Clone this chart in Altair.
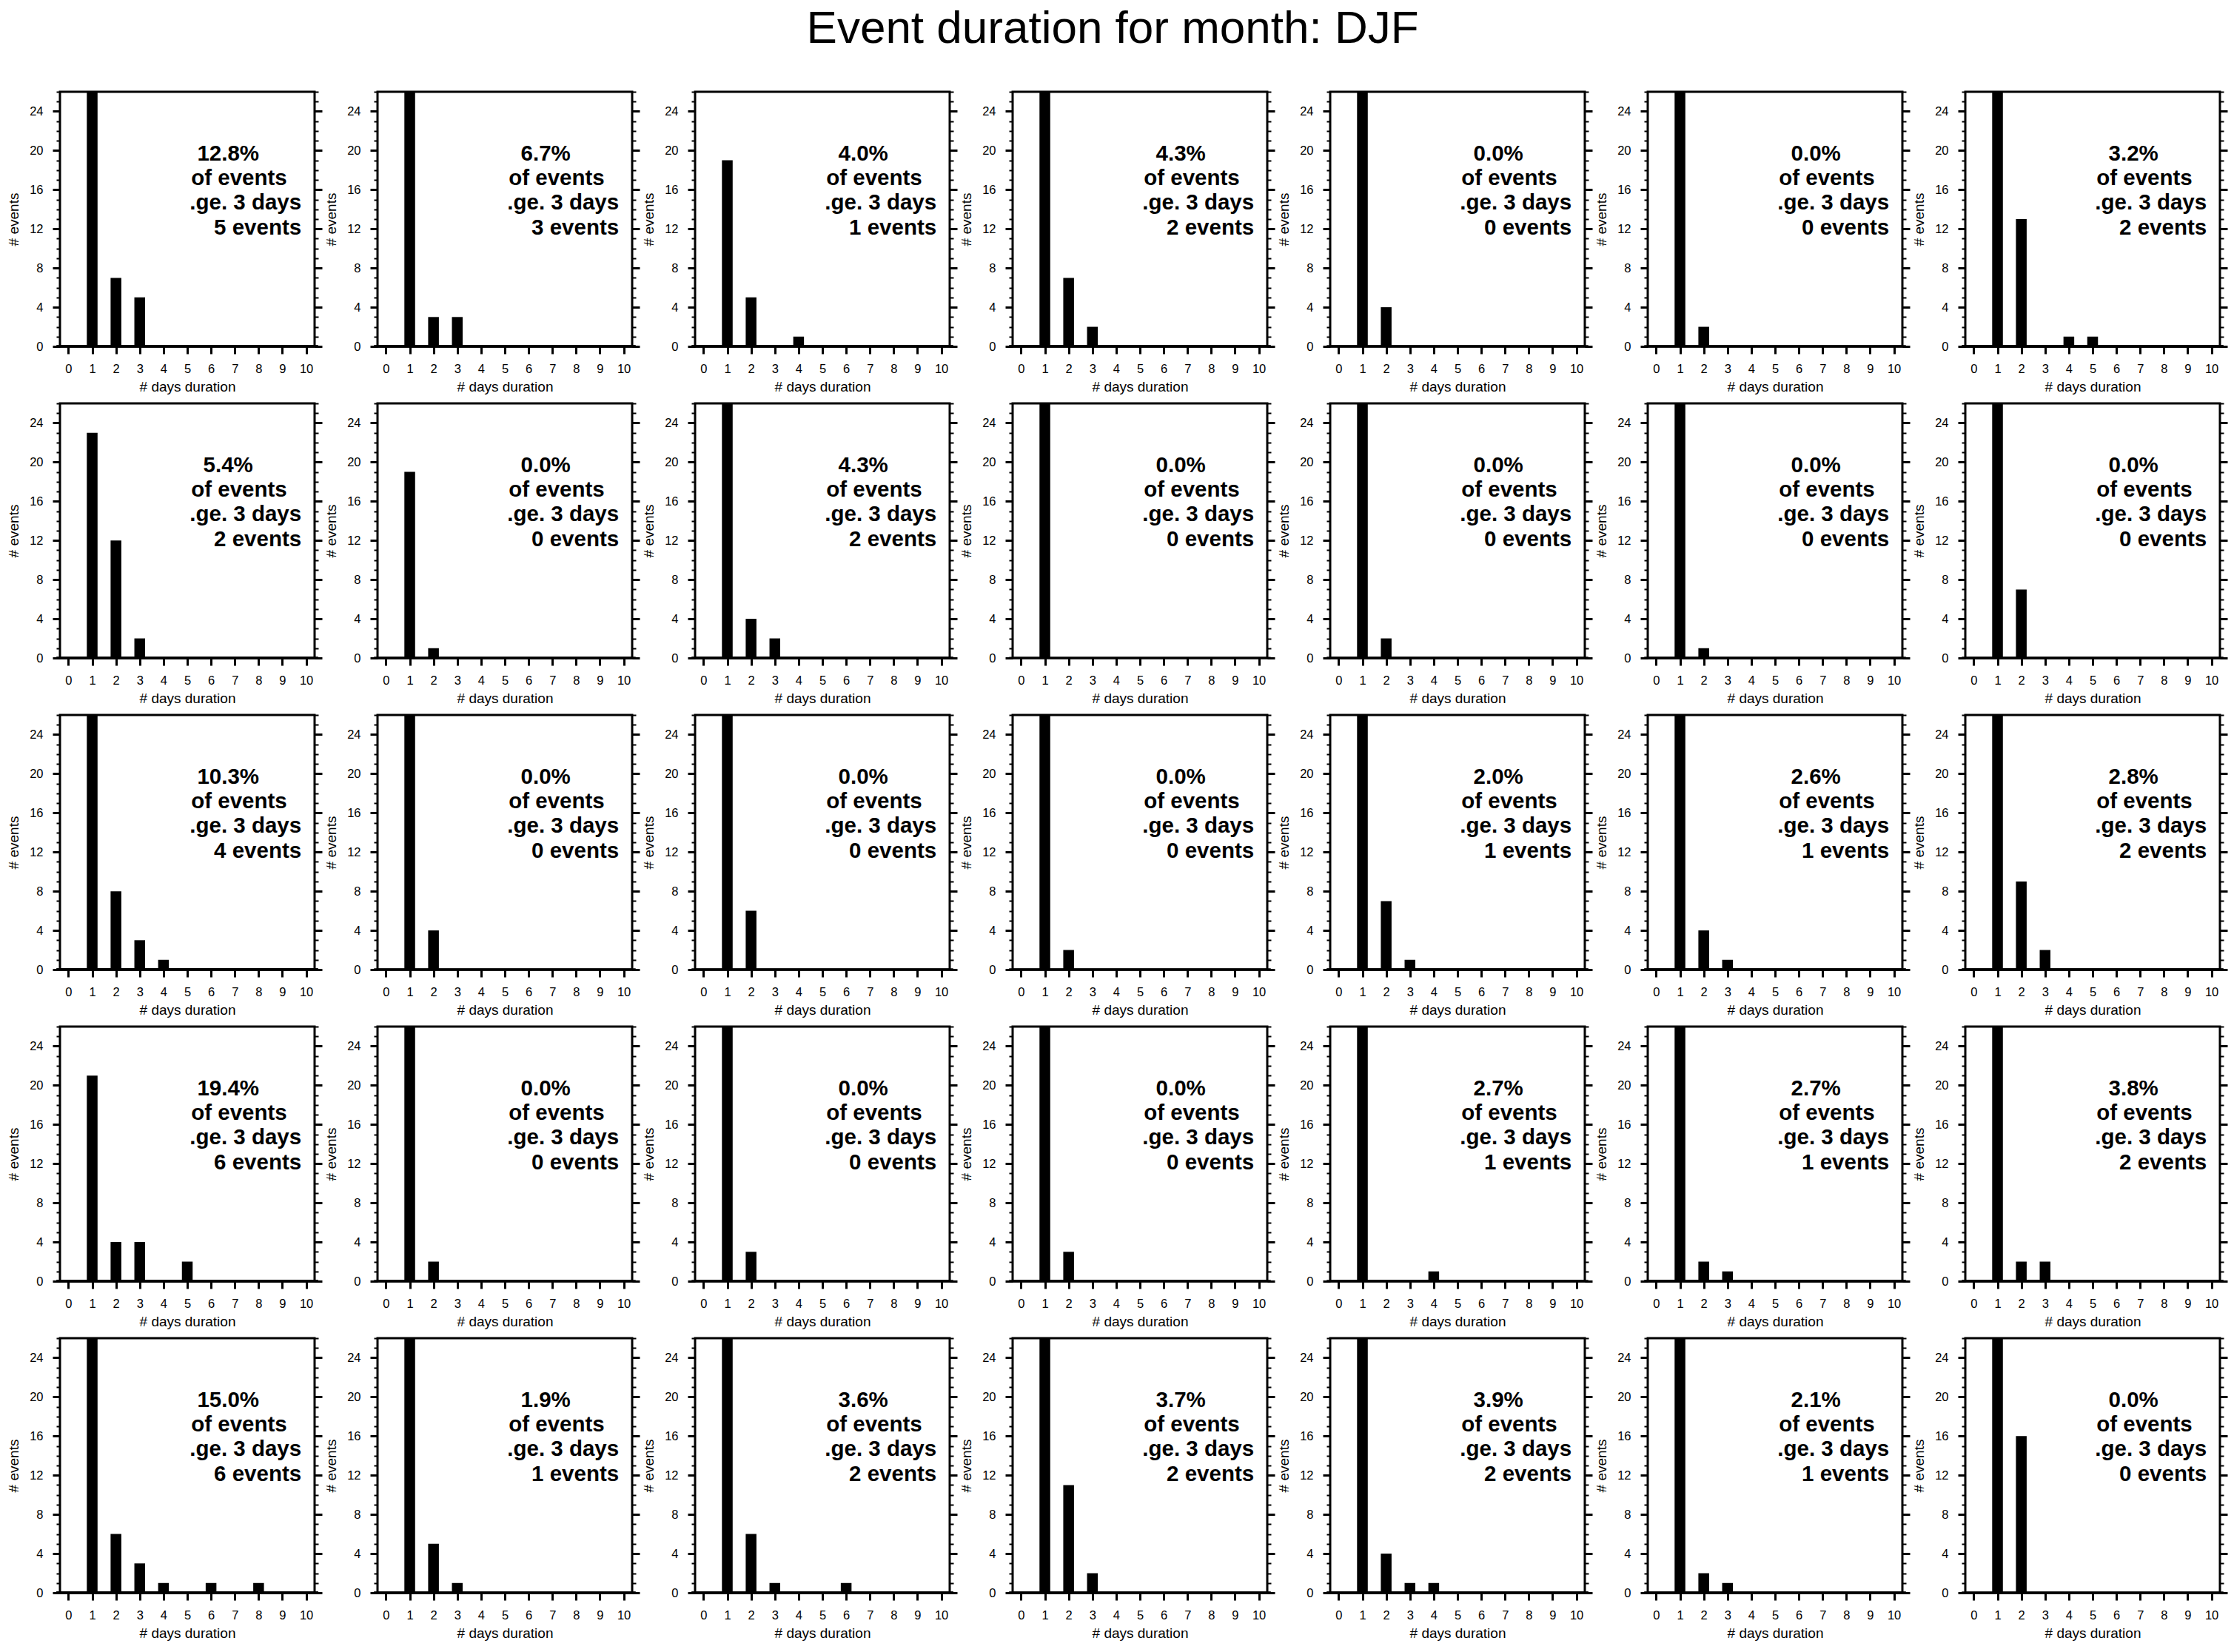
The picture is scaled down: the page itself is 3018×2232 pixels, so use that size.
import altair as alt
import pandas as pd

# ---- data ----
DAYS = [
    [1, 2, 3], [1, 2, 3], [1, 2, 4], [1, 2, 3], [1, 2], [1, 2], [1, 2, 4, 5],
    [1, 2, 3], [1, 2], [1, 2, 3], [1], [1, 2], [1, 2], [1, 2],
    [1, 2, 3, 4], [1, 2], [1, 2], [1, 2], [1, 2, 3], [1, 2, 3], [1, 2, 3],
    [1, 2, 3, 5], [1, 2], [1, 2], [1, 2], [1, 4], [1, 2, 3], [1, 2, 3],
    [1, 2, 3, 4, 6, 8], [1, 2, 3], [1, 2, 3, 6], [1, 2, 3], [1, 2, 3, 4], [1, 2, 3], [1, 2],
]
COUNTS = [
    [27, 7, 5], [39, 3, 3], [19, 5, 1], [38, 7, 2], [35, 4], [35, 2], [47, 13, 1, 1],
    [23, 12, 2], [19, 1], [41, 4, 2], [35], [35, 2], [35, 1], [35, 7],
    [27, 8, 3, 1], [35, 4], [35, 6], [35, 2], [42, 7, 1], [33, 4, 1], [60, 9, 2],
    [21, 4, 4, 2], [35, 2], [35, 3], [35, 3], [36, 1], [34, 2, 1], [49, 2, 2],
    [28, 6, 3, 1, 1, 1], [47, 5, 1], [48, 6, 1, 1], [41, 11, 2], [45, 4, 1, 1], [45, 2, 1], [35, 16],
]
PCT = [
    "12.8%", "6.7%", "4.0%", "4.3%", "0.0%", "0.0%", "3.2%",
    "5.4%", "0.0%", "4.3%", "0.0%", "0.0%", "0.0%", "0.0%",
    "10.3%", "0.0%", "0.0%", "0.0%", "2.0%", "2.6%", "2.8%",
    "19.4%", "0.0%", "0.0%", "0.0%", "2.7%", "2.7%", "3.8%",
    "15.0%", "1.9%", "3.6%", "3.7%", "3.9%", "2.1%", "0.0%",
]
NEVENTS = [
    5, 3, 1, 2, 0, 0, 2,
    2, 0, 2, 0, 0, 0, 0,
    4, 0, 0, 0, 1, 1, 2,
    6, 0, 0, 0, 1, 1, 2,
    6, 1, 2, 2, 2, 1, 0,
]
X_TICKS = list(range(0, 11))
Y_TICKS = list(range(0, 27))

TITLE = "Event duration for month: DJF"
X_TITLE = "# days duration"
Y_TITLE = "# events"

# ---- layout / style constants ----
W, H = 344, 344
XDOM = [-0.2, 10.2]
YDOM = [0, 26]
FONT = "Liberation Sans"
# annotation anchors (data units)
CX = [6.72, 7.18]
CY = [19.0, 16.47]
RX = 9.8
RY = [13.95, 11.43]

xscale = alt.Scale(domain=XDOM, nice=False, zero=False)
yscale = alt.Scale(domain=YDOM, nice=False, zero=False)

major = "datum.value % 4 === 0"
tick_size = {"condition": {"test": major, "value": 10}, "value": 5}
tick_width = {"condition": {"test": major, "value": 3}, "value": 2}

xaxis = alt.Axis(
    values=X_TICKS, format="d", title=X_TITLE, domain=False,
    tickSize=10, tickWidth=3, tickColor="black",
    labelFont=FONT, labelFontSize=16.5, labelColor="black", labelPadding=12,
    labelOverlap=False, labelFlush=False, tickCount=11,
    titleFont=FONT, titleFontSize=19, titleFontWeight="normal", titleColor="black",
    titlePadding=7, grid=False,
)
yaxis_left = alt.Axis(
    orient="left", values=Y_TICKS, title=Y_TITLE, domain=False,
    labelExpr="datum.value % 4 === 0 ? datum.label : ''",
    tickSize=tick_size, tickWidth=tick_width, tickColor="black",
    labelFont=FONT, labelFontSize=16.5, labelColor="black", labelPadding=13,
    labelOverlap=False, labelFlush=False,
    titleFont=FONT, titleFontSize=19, titleFontWeight="normal", titleColor="black",
    titlePadding=11, grid=False,
)
yaxis_right = alt.Axis(
    orient="right", values=Y_TICKS, title="", domain=False, labels=False,
    tickSize=tick_size, tickWidth=tick_width, tickColor="black", grid=False,
)


def panel(i):
    df = pd.DataFrame({"days": DAYS[i], "count": COUNTS[i]})
    base = alt.Chart(df)
    xenc = alt.X("days:Q", scale=xscale, axis=xaxis)
    bars = base.mark_bar(color="black", clip=True, size=14.5).encode(
        x=xenc,
        y=alt.Y("count:Q", scale=yscale, axis=yaxis_left),
    )
    right = base.mark_point(opacity=0).encode(
        x=alt.X(datum=0, scale=xscale, axis=xaxis),
        y=alt.Y(datum=0, scale=yscale, axis=yaxis_right),
    )
    axisline = base.mark_rule(color="black", strokeWidth=3).encode(
        x=alt.X(datum=-0.5, scale=xscale, axis=xaxis), x2=alt.datum(10.5), y=alt.value(H),
    )
    tc = pd.DataFrame({"t": [PCT[i], "of events"], "x": CX, "y": CY})
    tr = pd.DataFrame({"t": [".ge. 3 days", f"{NEVENTS[i]} events"], "x": [RX, RX], "y": RY})
    txt_c = alt.Chart(tc).mark_text(
        align="center", baseline="alphabetic", font=FONT, fontWeight="bold",
        fontSize=29.5, color="black",
    ).encode(x=alt.X("x:Q", scale=xscale, axis=xaxis),
             y=alt.Y("y:Q", scale=yscale, axis=None), text="t:N")
    txt_r = alt.Chart(tr).mark_text(
        align="right", baseline="alphabetic", font=FONT, fontWeight="bold",
        fontSize=29.5, color="black",
    ).encode(x=alt.X("x:Q", scale=xscale, axis=xaxis),
             y=alt.Y("y:Q", scale=yscale, axis=None), text="t:N")
    return alt.layer(bars, right, axisline, txt_c, txt_r).resolve_scale(y="independent").properties(
        width=W, height=H
    )


charts = [panel(i) for i in range(35)]
chart = alt.concat(
    *charts, columns=7, spacing={"row": 77, "column": 85}, bounds="flush",
).properties(
    title=alt.TitleParams(
        TITLE, fontSize=62, font=FONT, fontWeight="normal", color="black",
        anchor="middle", dx=-7, offset=44,
    ),
    padding={"left": 8, "top": 7, "right": 5, "bottom": 5},
    background="white",
).configure_view(stroke="black", strokeWidth=3)

chart.save("out.html", embed_options={"renderer": "svg", "actions": False})
